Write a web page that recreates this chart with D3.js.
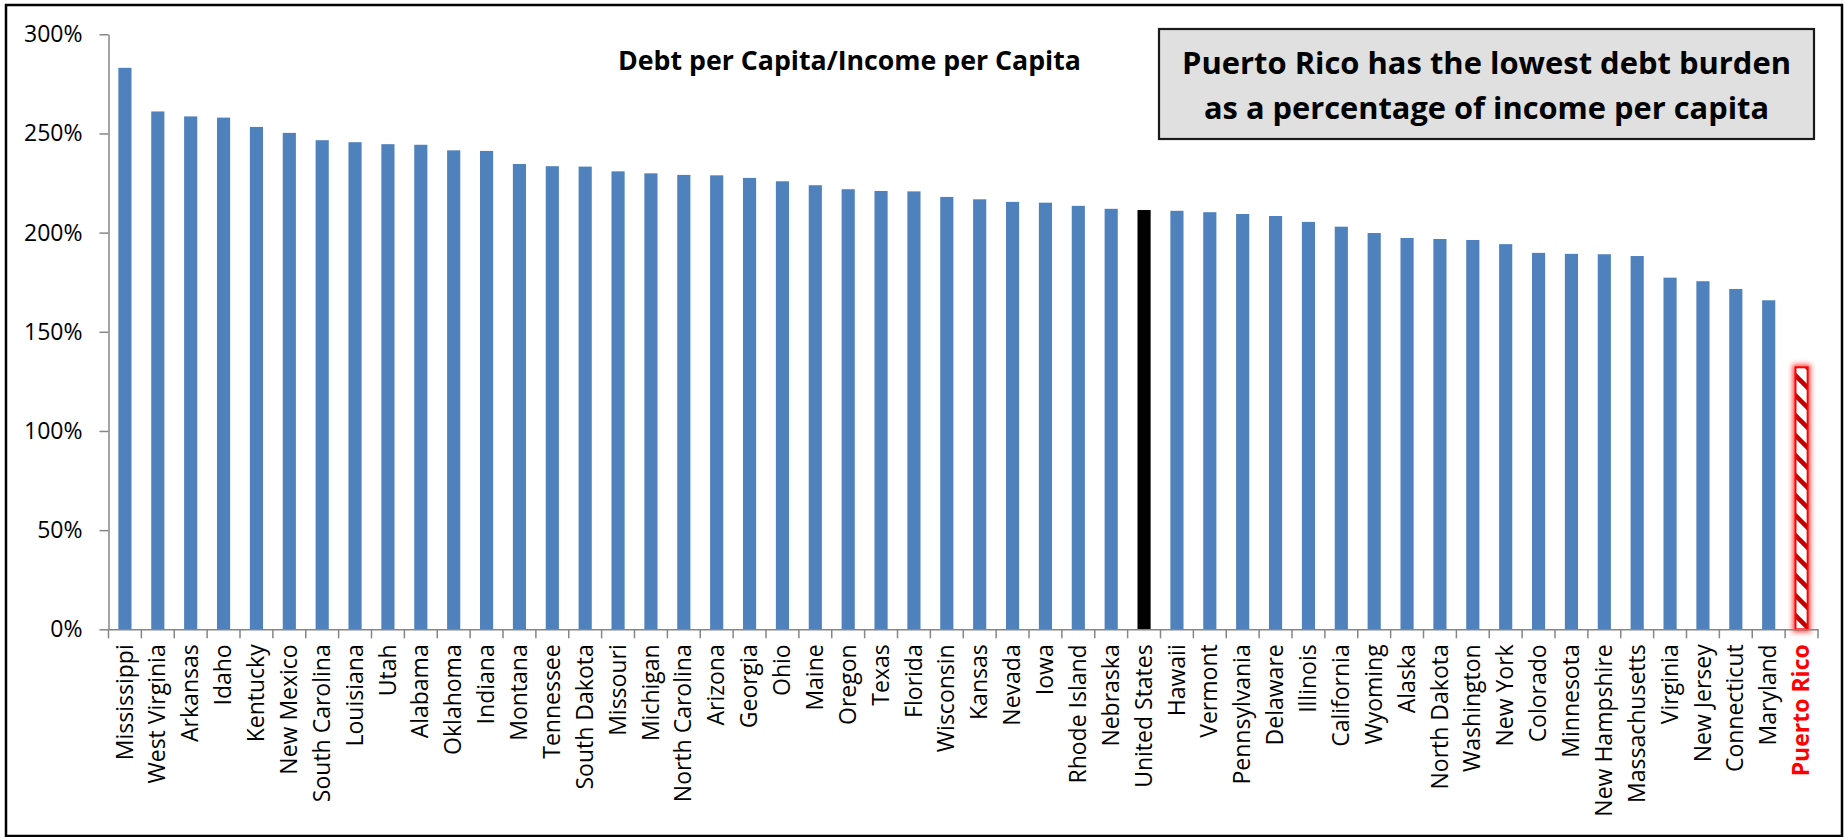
<!DOCTYPE html>
<html>
<head>
<meta charset="utf-8">
<script src="https://cdn.jsdelivr.net/npm/d3@7"></script>
<style>
  html, body { margin: 0; padding: 0; background: #ffffff; }
  svg { display: block; font-family: "Open Sans", "Noto Sans", sans-serif; }
</style>
</head>
<body>
<svg id="chart" width="1845" height="837"></svg>
<script>
// Debt per capita as a share of income per capita, by state
const categories = [
  "Mississippi", "West Virginia", "Arkansas", "Idaho", "Kentucky", "New Mexico",
  "South Carolina", "Louisiana", "Utah", "Alabama", "Oklahoma", "Indiana",
  "Montana", "Tennessee", "South Dakota", "Missouri", "Michigan", "North Carolina",
  "Arizona", "Georgia", "Ohio", "Maine", "Oregon", "Texas", "Florida", "Wisconsin",
  "Kansas", "Nevada", "Iowa", "Rhode Island", "Nebraska", "United States", "Hawaii",
  "Vermont", "Pennsylvania", "Delaware", "Illinois", "California", "Wyoming",
  "Alaska", "North Dakota", "Washington", "New York", "Colorado", "Minnesota",
  "New Hampshire", "Massachusetts", "Virginia", "New Jersey", "Connecticut",
  "Maryland", "Puerto Rico"
];

const debtToIncome = [
  2.831, 2.611, 2.586, 2.580, 2.533, 2.503,
  2.466, 2.456, 2.446, 2.443, 2.415, 2.412,
  2.346, 2.335, 2.333, 2.309, 2.299, 2.291,
  2.289, 2.276, 2.259, 2.239, 2.219, 2.210, 2.208, 2.180,
  2.168, 2.155, 2.151, 2.135, 2.120, 2.114, 2.110,
  2.103, 2.094, 2.084, 2.054, 2.030, 1.998,
  1.973, 1.968, 1.963, 1.942, 1.898, 1.893,
  1.891, 1.882, 1.773, 1.755, 1.716,
  1.659, 1.321
];

const yTickValues = [0, 0.5, 1, 1.5, 2, 2.5, 3];

const chartTitle = "Debt per Capita/Income per Capita";
const calloutLines = [
  "Puerto Rico has the lowest debt burden",
  "as a percentage of income per capita"
];

const nationalName = "United States";
const highlightName = "Puerto Rico";

const data = categories.map((name, i) => ({ name, value: debtToIncome[i] }));

const svg = d3.select("#chart");

// Outer frame
svg.append("rect")
  .attr("x", 6).attr("y", 5)
  .attr("width", 1836).attr("height", 831)
  .attr("fill", "#ffffff")
  .attr("stroke", "#000000")
  .attr("stroke-width", 2.5);

const plot = { left: 108.5, right: 1818, top: 34.3, bottom: 629.3 };

const x = d3.scaleBand()
  .domain(categories)
  .range([plot.left, plot.right])
  .paddingInner(0.6)
  .paddingOuter(0.3);

const y = d3.scaleLinear()
  .domain([0, 3])
  .range([plot.bottom, plot.top]);

const defs = svg.append("defs");

// Wide downward-diagonal hatch for the highlighted bar
const hatch = defs.append("pattern")
  .attr("id", "hatch")
  .attr("patternUnits", "userSpaceOnUse")
  .attr("width", 20).attr("height", 20);
hatch.append("rect").attr("width", 20).attr("height", 20).attr("fill", "#ffffff");
hatch.append("path")
  .attr("d", "M-5,-5 L25,25 M-5,15 L5,25 M15,-5 L25,5")
  .attr("stroke", "#c00000")
  .attr("stroke-width", 4.5);

// Soft red glow around the highlighted bar
const glow = defs.append("filter")
  .attr("id", "glow")
  .attr("x", "-80%").attr("y", "-10%")
  .attr("width", "260%").attr("height", "120%");
glow.append("feMorphology").attr("in", "SourceAlpha").attr("operator", "dilate").attr("radius", 1.5).attr("result", "grown");
glow.append("feGaussianBlur").attr("in", "grown").attr("stdDeviation", 2.5).attr("result", "blur");
glow.append("feFlood").attr("flood-color", "#ff2020").attr("flood-opacity", 0.8);
glow.append("feComposite").attr("in2", "blur").attr("operator", "in").attr("result", "halo");
const merge = glow.append("feMerge");
merge.append("feMergeNode").attr("in", "halo");
merge.append("feMergeNode").attr("in", "SourceGraphic");

// Bars
const bars = svg.append("g");
bars.selectAll("rect.bar")
  .data(data.filter(d => d.name !== highlightName))
  .join("rect")
  .attr("class", "bar")
  .attr("x", d => x(d.name))
  .attr("y", d => y(d.value))
  .attr("width", x.bandwidth())
  .attr("height", d => y(0) - y(d.value))
  .attr("fill", d => d.name === nationalName ? "#000000" : "#4f81bd");

const pr = data.find(d => d.name === highlightName);
bars.append("rect")
  .attr("x", x(pr.name) + 0.5)
  .attr("y", y(pr.value))
  .attr("width", x.bandwidth() - 1)
  .attr("height", y(0) - y(pr.value))
  .attr("fill", "url(#hatch)")
  .attr("stroke", "#ff0000")
  .attr("stroke-width", 2)
  .attr("filter", "url(#glow)");

const axisColor = "#868686";

// Y axis
const yAxis = svg.append("g")
  .attr("transform", `translate(${plot.left},0)`)
  .call(d3.axisLeft(y)
    .tickValues(yTickValues)
    .tickFormat(d3.format(".0%"))
    .tickSize(9)
    .tickSizeOuter(0)
    .tickPadding(17));
yAxis.select(".domain").attr("stroke", axisColor).attr("stroke-width", 1.5);
yAxis.selectAll(".tick line").attr("stroke", axisColor).attr("stroke-width", 1.5);
yAxis.selectAll(".tick text")
  .attr("fill", "#000000")
  .style("font-size", "23px")
  .style("font-family", "'Open Sans', sans-serif");

// X axis line
const xAxis = svg.append("g")
  .attr("transform", `translate(0,${plot.bottom})`)
  .call(d3.axisBottom(x).tickSize(0).tickSizeOuter(0).tickFormat(""));
xAxis.select(".domain").attr("stroke", axisColor).attr("stroke-width", 1.5);
xAxis.selectAll(".tick").remove();

// Category separators on the x axis
const boundaries = d3.range(categories.length + 1).map(i => x.range()[0] + i * x.step());
svg.append("g").selectAll("line")
  .data(boundaries)
  .join("line")
  .attr("x1", d => d).attr("x2", d => d)
  .attr("y1", plot.bottom).attr("y2", plot.bottom + 9)
  .attr("stroke", axisColor).attr("stroke-width", 1.5);

// Category labels, rotated
svg.append("g").selectAll("text")
  .data(categories)
  .join("text")
  .attr("transform", d => `translate(${x(d) + x.bandwidth() / 2},${plot.bottom + 15}) rotate(-90)`)
  .attr("text-anchor", "end")
  .attr("dy", "0.33em")
  .style("font-size", "23px")
  .style("font-weight", d => d === highlightName ? "700" : "400")
  .attr("fill", d => d === highlightName ? "#ff0000" : "#000000")
  .text(d => d);

// Chart title
svg.append("text")
  .attr("x", 618).attr("y", 70)
  .attr("textLength", 463)
  .attr("lengthAdjust", "spacingAndGlyphs")
  .style("font-size", "27px")
  .style("font-weight", "700")
  .attr("fill", "#000000")
  .text(chartTitle);

// Callout box
const callout = svg.append("g");
callout.append("rect")
  .attr("x", 1159).attr("y", 29)
  .attr("width", 655).attr("height", 110)
  .attr("fill", "#e0e0e0")
  .attr("stroke", "#1a1a1a")
  .attr("stroke-width", 2.2);
const calloutWidths = [609, 565];
const calloutBaselines = [74, 119];
callout.selectAll("text")
  .data(calloutLines)
  .join("text")
  .attr("x", 1486.5)
  .attr("y", (d, i) => calloutBaselines[i])
  .attr("text-anchor", "middle")
  .attr("textLength", (d, i) => calloutWidths[i])
  .attr("lengthAdjust", "spacingAndGlyphs")
  .style("font-size", "30px")
  .style("font-weight", "700")
  .attr("fill", "#000000")
  .text(d => d);
</script>
</body>
</html>
